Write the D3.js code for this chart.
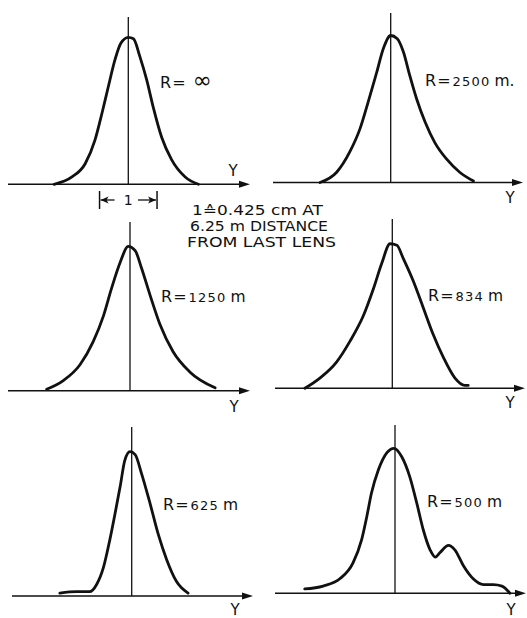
<!DOCTYPE html>
<html>
<head>
<meta charset="utf-8">
<script src="https://cdn.jsdelivr.net/npm/d3@7"></script>
<style>
  html, body { margin: 0; padding: 0; background: #fff; }
  svg { display: block; }
  text { font-family: "DejaVu Sans", "Liberation Sans", sans-serif; fill: #111; }
</style>
</head>
<body>
<script>
// Lateral intensity profiles of the beam spot for several radii of curvature R.
// x: lateral offset Y in scale units (1 unit = 0.425 cm at 6.25 m), y: relative intensity.
const profileInf = [[-1.29,0],[-0.98,0.05],[-0.75,0.14],[-0.58,0.30],[-0.46,0.48],[-0.35,0.66],[-0.23,0.85],[-0.13,0.96],[0,1],[0.09,0.99],[0.20,0.87],[0.32,0.71],[0.43,0.53],[0.58,0.32],[0.75,0.17],[0.99,0.05],[1.22,0]];
const profile2500 = [[-1.23,0],[-0.94,0.07],[-0.71,0.21],[-0.53,0.37],[-0.39,0.55],[-0.25,0.74],[-0.12,0.92],[0,1],[0.11,0.98],[0.22,0.89],[0.33,0.73],[0.45,0.57],[0.60,0.41],[0.77,0.27],[0.97,0.16],[1.20,0.07],[1.44,0.01]];
const profile1250 = [[-1.45,0.01],[-1.16,0.07],[-0.87,0.18],[-0.64,0.34],[-0.46,0.52],[-0.32,0.71],[-0.17,0.89],[-0.03,1],[0.09,0.97],[0.20,0.85],[0.35,0.66],[0.52,0.46],[0.75,0.27],[1.04,0.13],[1.48,0.02]];
const profile834 = [[-1.52,0],[-1.26,0.07],[-0.97,0.18],[-0.74,0.32],[-0.50,0.50],[-0.33,0.68],[-0.18,0.86],[-0.04,0.99],[0.08,0.98],[0.19,0.89],[0.37,0.73],[0.54,0.55],[0.71,0.37],[0.89,0.21],[1.09,0.07],[1.26,0.02],[1.32,0.02]];
const profile625 = [[-1.25,0.02],[-0.96,0.03],[-0.73,0.03],[-0.61,0.08],[-0.49,0.20],[-0.38,0.39],[-0.29,0.57],[-0.20,0.76],[-0.12,0.94],[-0.03,1],[0.06,0.98],[0.17,0.85],[0.32,0.64],[0.46,0.43],[0.61,0.25],[0.78,0.10],[0.98,0.02]];
const profile500 = [[-1.57,0.03],[-1.25,0.05],[-0.96,0.10],[-0.73,0.21],[-0.58,0.37],[-0.49,0.53],[-0.41,0.69],[-0.29,0.85],[-0.14,0.97],[-0.02,1],[0.12,0.94],[0.26,0.80],[0.38,0.62],[0.49,0.44],[0.61,0.30],[0.70,0.25],[0.78,0.28],[0.93,0.33],[1.04,0.30],[1.19,0.19],[1.36,0.10],[1.54,0.06],[1.71,0.06],[1.86,0.05],[2.00,0]];

const radiusLabels = ["∞", "2500 m.", "1250 m", "834 m", "625 m", "500 m"];
const axisLabel = "Y";
const scaleBarUnits = [-0.5, 0.5];
const scaleBarLabel = "1";
const noteLines = ["1\u22590.425 cm AT", "6.25 m DISTANCE", "FROM LAST LENS"];

const profiles = [profileInf, profile2500, profile1250, profile834, profile625, profile500];

// Panel placement (pixels)
const unitPx = 57.5;
const layout = [
  {cx:128.3, base:184.3, h:147,   ax0:8,   ax1:250, top:17,  lx:160, ly:88,  yx:233, yy:176},
  {cx:390.7, base:182.5, h:147,   ax0:273, ax1:523, top:13,  lx:425, ly:86,  yx:510, yy:203},
  {cx:130,   base:390.7, h:144.4, ax0:8,   ax1:250, top:222, lx:161, ly:302, yx:234, yy:412},
  {cx:392.3, base:388.3, h:146,   ax0:275, ax1:525, top:219, lx:428, ly:301, yx:510, yy:408},
  {cx:131.7, base:596,   h:144.3, ax0:12,  ax1:253, top:427, lx:163, ly:510, yx:235, yy:615},
  {cx:395,   base:593.3, h:145,   ax0:275, ax1:526, top:425, lx:427, ly:507, yx:511, yy:615}
];

const W = 527, H = 618;
const svg = d3.select("body").append("svg").attr("width", W).attr("height", H);
svg.append("rect").attr("width", W).attr("height", H).attr("fill", "#fff");

layout.forEach((p, i) => {
  const x = d3.scaleLinear().domain([0, 1]).range([p.cx, p.cx + unitPx]);
  const y = d3.scaleLinear().domain([0, 1]).range([p.base, p.base - p.h]);
  const g = svg.append("g");

  // horizontal Y axis with arrow
  g.append("line").attr("x1", p.ax0).attr("x2", p.ax1 - 8)
    .attr("y1", p.base).attr("y2", p.base)
    .attr("stroke", "#111").attr("stroke-width", 1.6);
  g.append("path")
    .attr("d", `M${p.ax1},${p.base} L${p.ax1 - 11},${p.base - 3.5} L${p.ax1 - 11},${p.base + 3.5} Z`)
    .attr("fill", "#111");

  // centre line
  g.append("line").attr("x1", x(0)).attr("x2", x(0))
    .attr("y1", p.top).attr("y2", p.base)
    .attr("stroke", "#111").attr("stroke-width", 1.3);

  // profile curve
  const line = d3.line()
    .x(d => x(d[0])).y(d => y(d[1]))
    .curve(d3.curveMonotoneX);
  g.append("path").datum(profiles[i]).attr("d", line)
    .attr("fill", "none").attr("stroke", "#111")
    .attr("stroke-width", 2.8).attr("stroke-linecap", "round").attr("stroke-linejoin", "round");

  // R label
  const t = g.append("text").attr("x", p.lx).attr("y", p.ly);
  t.append("tspan").attr("font-size", 16).text("R");
  t.append("tspan").attr("font-size", 16).attr("dx", 1).text("=");
  const val = radiusLabels[i];
  if (val === "∞") {
    t.append("tspan").attr("font-size", 23).attr("dx", 7).text(val);
  } else {
    const num = val.match(/^[0-9]+/)[0];
    const rest = val.slice(num.length).trim();
    t.append("tspan").attr("font-size", 13).attr("dx", 2).attr("letter-spacing", 1.2).text(num);
    t.append("tspan").attr("font-size", 15.5).attr("dx", 4).text(rest);
  }

  // axis name
  g.append("text").attr("x", p.yx).attr("y", p.yy)
    .attr("text-anchor", "middle").attr("font-size", 15).text(axisLabel);
});

// scale bar under the first panel
{
  const p = layout[0];
  const x = d3.scaleLinear().domain([0, 1]).range([p.cx, p.cx + unitPx]);
  const xl = x(scaleBarUnits[0]), xr = x(scaleBarUnits[1]), yb = 200;
  const g = svg.append("g").attr("stroke", "#111").attr("fill", "#111");
  g.append("line").attr("x1", xl).attr("x2", xl).attr("y1", 191).attr("y2", 209).attr("stroke-width", 1.5);
  g.append("line").attr("x1", xr).attr("x2", xr).attr("y1", 191).attr("y2", 209).attr("stroke-width", 1.5);
  g.append("line").attr("x1", xl + 1).attr("x2", xl + 15).attr("y1", yb).attr("y2", yb).attr("stroke-width", 1.3);
  g.append("line").attr("x1", xr - 19).attr("x2", xr - 1).attr("y1", yb).attr("y2", yb).attr("stroke-width", 1.3);
  g.append("path").attr("stroke", "none")
    .attr("d", `M${xl + 1},${yb} L${xl + 9},${yb - 3.5} L${xl + 7},${yb} L${xl + 9},${yb + 3.5} Z`);
  g.append("path").attr("stroke", "none")
    .attr("d", `M${xr - 1},${yb} L${xr - 9},${yb - 3.5} L${xr - 7},${yb} L${xr - 9},${yb + 3.5} Z`);
  svg.append("text").attr("x", (xl + xr) / 2).attr("y", yb + 5)
    .attr("text-anchor", "middle").attr("font-size", 14).text(scaleBarLabel);
}

// scale note
const noteX = [192, 190, 187], noteW = [131, 138, 149], noteY = [215, 231, 247];
noteLines.forEach((s, k) => {
  svg.append("text").attr("x", noteX[k]).attr("y", noteY[k])
    .attr("font-size", 13.5)
    .attr("textLength", noteW[k]).attr("lengthAdjust", "spacingAndGlyphs")
    .text(s);
});
</script>
</body>
</html>
